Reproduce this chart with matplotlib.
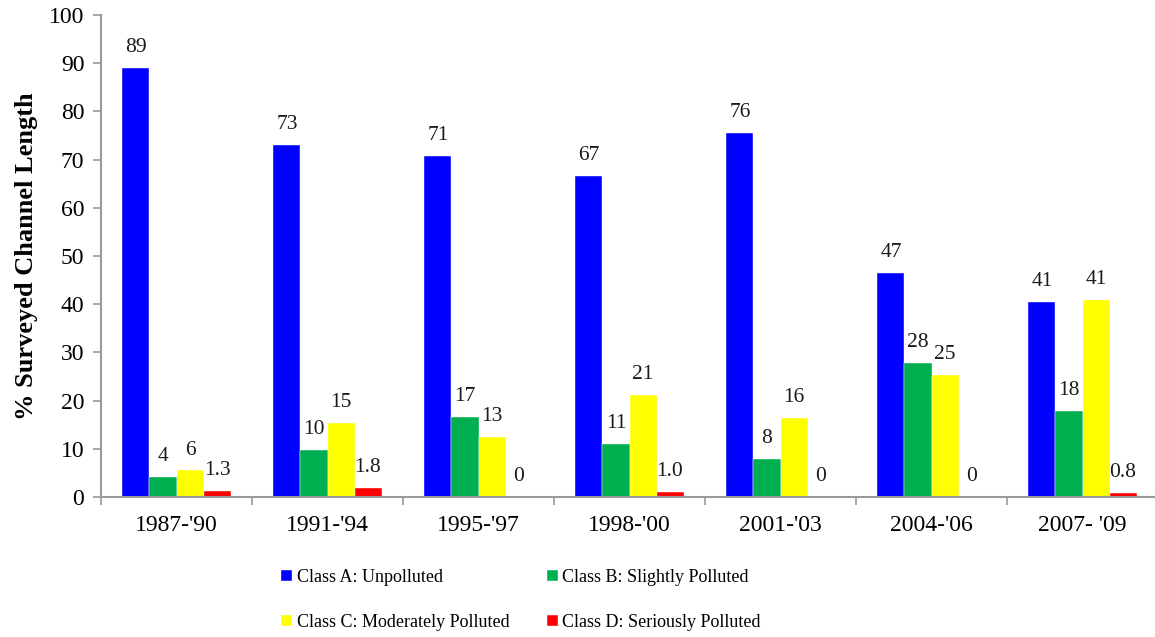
import numpy as np
import matplotlib
matplotlib.use('Agg')
import matplotlib.pyplot as plt

periods = ["1987-'90", "1991-'94", "1995-'97", "1998-'00", "2001-'03", "2004-'06", "2007- '09"]
class_a = [89.0, 73.0, 70.7, 66.7, 75.5, 46.5, 40.5]
class_b = [4.1, 9.8, 16.5, 11.0, 7.9, 27.9, 17.8]
class_c = [5.5, 15.3, 12.5, 21.1, 16.3, 25.3, 40.8]
class_d = [1.3, 1.8, 0.0, 1.0, 0.0, 0.0, 0.8]
labels_a = ['89', '73', '71', '67', '76', '47', '41']
labels_b = ['4', '10', '17', '11', '8', '28', '18']
labels_c = ['6', '15', '13', '21', '16', '25', '41']
labels_d = ['1.3', '1.8', '0', '1.0', '0', '0', '0.8']
series_names = ['Class A: Unpolluted', 'Class B: Slightly Polluted',
                'Class C: Moderately Polluted', 'Class D: Seriously Polluted']
colors = ['#0000FF', '#00B050', '#FFFF00', '#FF0000']

plt.rcParams['font.family'] = ['Liberation Serif', 'DejaVu Serif']

fig = plt.figure(figsize=(11.55, 6.37), dpi=100)
ax = fig.add_axes([101 / 1155, 1 - 497 / 637, 1057 / 1155, 482 / 637])

x = np.arange(len(periods))
width = 0.179
series = [class_a, class_b, class_c, class_d]
texts = [labels_a, labels_b, labels_c, labels_d]
handles = []
for i, (vals, labs) in enumerate(zip(series, texts)):
    pos = x + (i - 1.5) * width
    h = ax.bar(pos, vals, width, color=colors[i], label=series_names[i],
               edgecolor='white', linewidth=0.3)
    handles.append(h)
    for p, v, t in zip(pos, vals, labs):
        ax.annotate(t, (p, v), xytext=(0, 11.5), textcoords='offset points',
                    ha='center', va='baseline', fontsize=15.5, color='#1a1a1a')

ax.set_xlim(-0.5, len(periods) - 0.5)
ax.set_ylim(0, 100)
ax.set_yticks(range(0, 101, 10))
ax.set_xticks(x)
ax.set_xticklabels(periods)
ax.set_xticks(np.arange(len(periods) + 1) - 0.5, minor=True)
ax.tick_params(axis='x', which='major', length=0, pad=13, labelsize=17)
ax.tick_params(axis='x', which='minor', length=6, width=1.2, color='#999999', direction='out')
ax.tick_params(axis='y', length=6, width=1.2, color='#999999', direction='out', pad=6, labelsize=17)

for s in ['top', 'right']:
    ax.spines[s].set_visible(False)
for s in ['left', 'bottom']:
    ax.spines[s].set_color('#999999')
    ax.spines[s].set_linewidth(1.5)

ax.set_ylabel('% Surveyed Channel Length', fontsize=19, fontweight='bold')
ax.yaxis.set_label_coords(-0.0595, 0.5)

# legend reads row by row: A B / C D
order = [0, 2, 1, 3]
fig.legend([handles[k] for k in order], [series_names[k] for k in order], ncol=2,
           loc='center left', bbox_to_anchor=(274 / 1155, 1 - 600 / 637), frameon=False,
           fontsize=13, handlelength=0.6, handleheight=0.6, handletextpad=0.25,
           columnspacing=2.1, labelspacing=1.55, borderaxespad=0)

fig.savefig('out.png', dpi=100)
